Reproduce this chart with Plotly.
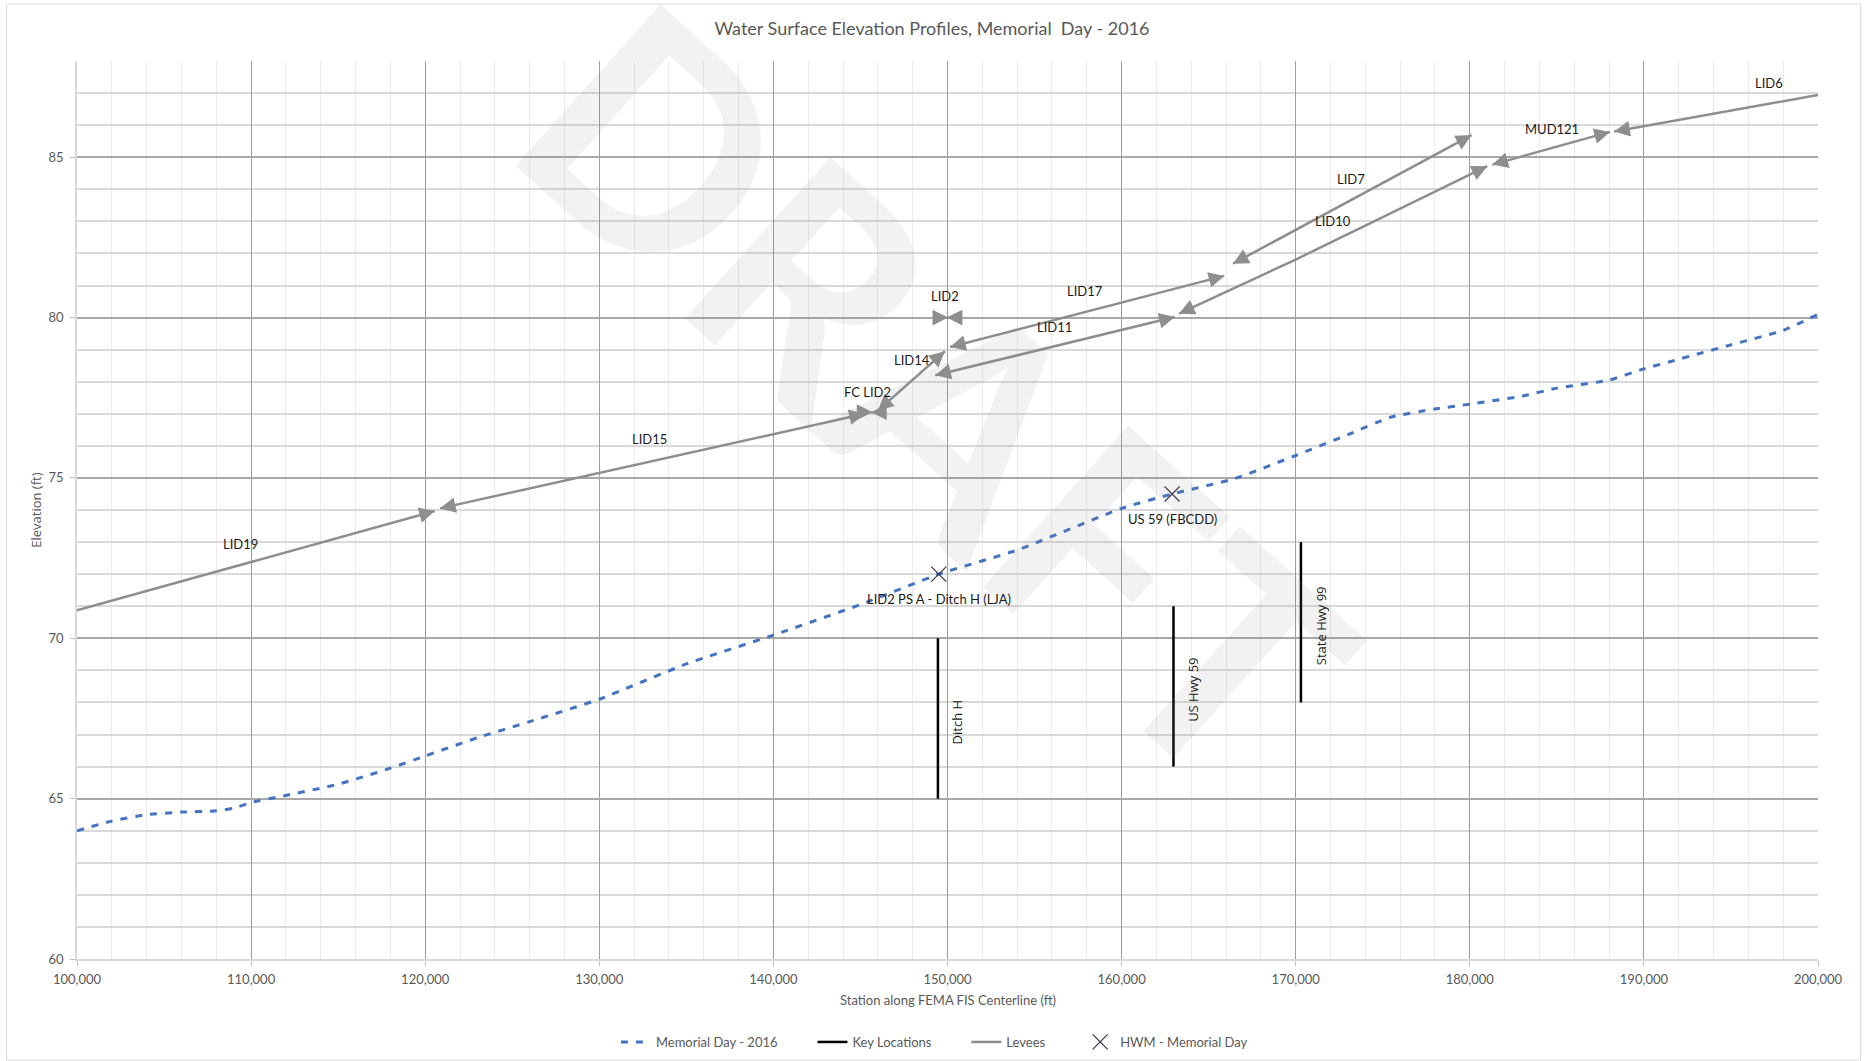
import math
import plotly.graph_objects as go

# ---------------- data ----------------
station_ws = [100000, 102000, 104000, 106000, 108000, 109000, 110000, 112000, 115000,
              118000, 120000, 123000, 126000, 130000, 135000, 140000, 145000, 149500,
              154000, 160000, 162900, 166500, 170000, 173000, 175500, 178000, 180000,
              183000, 185000, 188000, 190000, 192000, 195000, 198000, 200000]
elev_ws = [64.0, 64.3, 64.5, 64.58, 64.62, 64.7, 64.88, 65.1, 65.45,
           65.95, 66.33, 66.9, 67.4, 68.1, 69.2, 70.1, 71.05, 72.0,
           72.75, 74.05, 74.5, 74.98, 75.7, 76.35, 76.9, 77.15, 77.3,
           77.55, 77.8, 78.05, 78.4, 78.7, 79.15, 79.6, 80.1]

key_names = ["Ditch H", "US Hwy 59", "State Hwy 99"]
key_station = [149450, 162980, 170300]
key_elev_low = [65, 66, 68]
key_elev_high = [70, 71, 73]

hwm_labels = ["LID2 PS A - Ditch H (LJA)", "US 59 (FBCDD)"]
hwm_station = [149500, 162900]
hwm_elev = [72.0, 74.5]

levee_names = ["LID19", "LID15", "FC LID2", "LID14", "LID2", "LID17",
               "LID11", "LID10", "LID7", "MUD121", "LID6"]
levee_stations = [
    [100000, 120550],
    [120850, 145250],
    [145610, 145690],
    [146000, 149850],
    [149960, 150040],
    [150150, 165900],
    [149300, 163050],
    [163300, 166400, 170000, 175000, 181000],
    [166400, 180100],
    [181300, 188050],
    [188300, 200000],
]
levee_elev = [
    [70.87, 73.97],
    [74.05, 77.0],
    [77.05, 77.05],
    [77.1, 78.95],
    [80.0, 80.0],
    [79.08, 81.3],
    [78.2, 80.02],
    [80.12, 80.9, 81.81, 83.13, 84.72],
    [81.68, 85.69],
    [84.77, 85.79],
    [85.8, 86.94],
]
levee_arrow_start = [False, True, True, True, True, True, True, True, True, True, True]
levee_arrow_end = [True, True, True, True, True, True, True, True, True, True, False]

# label placement (station, elevation) for levee names
levee_label_station = [109400, 132900, 145430, 147950, 149870, 157900,
                       156150, 172150, 173150, 184700, 197200]
levee_label_elev = [72.95, 76.2, 77.68, 78.68, 80.68, 80.82,
                    79.72, 83.02, 84.32, 85.88, 87.3]

x_ticks = list(range(100000, 200001, 10000))
x_ticktext = [f"{v:,}" for v in x_ticks]

# ---------------- layout constants ----------------
W, H = 1864, 1061
ML, MR, MT, MB = 77, 46, 61, 102
X_RANGE = [100000, 200000]
Y_RANGE = [60, 88]
PW, PH = W - ML - MR, H - MT - MB
SX = PW / (X_RANGE[1] - X_RANGE[0])
SY = PH / (Y_RANGE[1] - Y_RANGE[0])

LEVEE = "#8e8e8e"
TXT = "#595959"
FONT = "Lato"
PAD = "\u00a0" * 9

fig = go.Figure()

# watermark
fig.add_annotation(
    text="DRAFT", xref="paper", yref="paper", x=0.495, y=0.632,
    showarrow=False, textangle=42,
    font=dict(family=FONT, size=300, color="rgba(140,140,140,0.11)", weight="bold"),
)

# water surface profile
fig.add_trace(go.Scatter(
    x=station_ws, y=elev_ws, mode="lines", name="Memorial Day - 2016" + PAD,
    line=dict(color="#4472C4", width=3, dash="7px,8px", shape="spline", smoothing=0.5),
))

# key locations
kx, ky = [], []
for s, lo, hi in zip(key_station, key_elev_low, key_elev_high):
    kx += [s, s, None]
    ky += [lo, hi, None]
fig.add_trace(go.Scatter(
    x=kx, y=ky, mode="lines", name="Key Locations" + PAD,
    line=dict(color="black", width=2.5),
))

# levees
lx, ly = [], []
for xs, ys in zip(levee_stations, levee_elev):
    lx += xs + [None]
    ly += ys + [None]
fig.add_trace(go.Scatter(
    x=lx, y=ly, mode="lines", name="Levees" + PAD,
    line=dict(color=LEVEE, width=2.5),
))

# high water marks
fig.add_trace(go.Scatter(
    x=hwm_station, y=hwm_elev, mode="markers", name="HWM - Memorial Day",
    marker=dict(symbol="x-thin", size=15, color="#34344a",
                line=dict(width=1.2, color="#34344a")),
))


def head(tip_x, tip_y, from_x, from_y):
    dx = (from_x - tip_x) * SX
    dy = -(from_y - tip_y) * SY
    n = math.hypot(dx, dy) or 1.0
    fig.add_annotation(
        x=tip_x, y=tip_y, xref="x", yref="y", text="",
        showarrow=True, ax=dx / n * 12, ay=dy / n * 12,
        arrowhead=2, arrowsize=1.25, arrowwidth=2.5, arrowcolor=LEVEE,
        standoff=0,
    )


for xs, ys, a0, a1 in zip(levee_stations, levee_elev, levee_arrow_start, levee_arrow_end):
    if a1:
        head(xs[-1], ys[-1], xs[-2], ys[-2])
    if a0:
        head(xs[0], ys[0], xs[1], ys[1])

# levee labels
for name, sx_, sy_ in zip(levee_names, levee_label_station, levee_label_elev):
    fig.add_annotation(x=sx_, y=sy_, xref="x", yref="y", text=name, showarrow=False,
                       font=dict(family=FONT, size=13, color="#1a1a1a"))

# HWM labels
for name, s, e in zip(hwm_labels, hwm_station, hwm_elev):
    fig.add_annotation(x=s, y=e, xref="x", yref="y", text=name, showarrow=False,
                       yshift=-25, font=dict(family=FONT, size=13, color="#1a1a1a"))

# key location labels
for name, s, lo, hi in zip(key_names, key_station, key_elev_low, key_elev_high):
    fig.add_annotation(x=s, y=(lo + hi) / 2, xref="x", yref="y", text=name,
                       showarrow=False, textangle=-90, xshift=20, yshift=-3,
                       font=dict(family="Open Sans", size=13, color="#1a1a1a"))

# axis titles
fig.add_annotation(text="Station along FEMA FIS Centerline (ft)", xref="paper", yref="paper",
                   x=0.5, y=-0.046, showarrow=False, yanchor="middle",
                   font=dict(family=FONT, size=13, color=TXT))
fig.add_annotation(text="Elevation (ft)", xref="paper", yref="paper",
                   x=-0.0237, y=0.5, showarrow=False, textangle=-90,
                   xanchor="center", yanchor="middle",
                   font=dict(family="Open Sans", size=13, color=TXT))

# chart border
fig.add_shape(type="rect", xref="paper", yref="paper",
              x0=-0.0405, x1=1.0245, y0=-0.1125, y1=1.0635,
              line=dict(color="#d9d9d9", width=1), fillcolor="rgba(0,0,0,0)", layer="below")

fig.update_layout(
    width=W, height=H,
    margin=dict(l=ML, r=MR, t=MT, b=MB, autoexpand=False),
    paper_bgcolor="white", plot_bgcolor="white",
    title=dict(text="Water Surface Elevation Profiles, Memorial  Day - 2016",
               x=0.5, xref="container", xanchor="center",
               y=1 - 28.5 / H, yref="container", yanchor="middle",
               font=dict(family=FONT, size=18, color=TXT)),
    showlegend=True,
    legend=dict(orientation="h", x=0.4925, xanchor="center",
                yref="container", y=19 / H, yanchor="middle",
                font=dict(family=FONT, size=13, color=TXT), bgcolor="rgba(0,0,0,0)",
                itemwidth=30),
    xaxis=dict(range=X_RANGE, tickvals=x_ticks, ticktext=x_ticktext, automargin=False,
               tickfont=dict(family=FONT, size=13, color=TXT),
               showgrid=True, gridcolor="#9c9c9c", gridwidth=1,
               minor=dict(dtick=2000, tick0=100000, showgrid=True, gridcolor="#ebebeb", gridwidth=1),
               ticks="outside", ticklen=5, tickcolor="#bfbfbf", ticklabelstandoff=3,
               showline=True, linecolor="#d9d9d9", linewidth=1.5, zeroline=False),
    yaxis=dict(range=Y_RANGE, tick0=60, dtick=5, automargin=False,
               tickfont=dict(family=FONT, size=13, color=TXT),
               showgrid=True, gridcolor="#a8a8a8", gridwidth=1.5,
               minor=dict(dtick=1, tick0=60, showgrid=True, gridcolor="#d9d9d9", gridwidth=1.5),
               ticks="outside", ticklen=5, tickcolor="#bfbfbf", ticklabelstandoff=4,
               showline=True, linecolor="#d9d9d9", linewidth=1.5, zeroline=False),
)

fig.write_html("out.html", config={"displayModeBar": False},
               post_script="document.body.style.margin='0px';document.body.style.overflow='hidden';")
